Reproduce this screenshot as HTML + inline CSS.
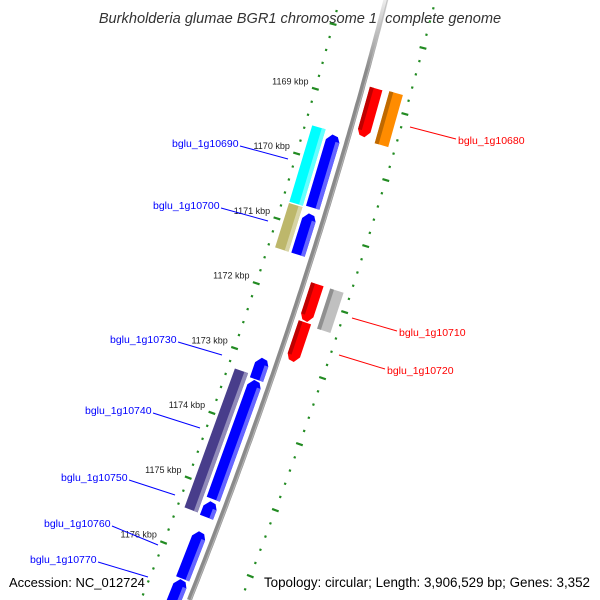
<!DOCTYPE html>
<html><head><meta charset="utf-8"><style>
html,body{margin:0;padding:0;background:#fff;overflow:hidden;width:600px;height:600px;}
svg{display:block;font-family:"Liberation Sans",sans-serif;}
</style></head><body>
<svg id="map" width="600" height="600" viewBox="0 0 600 600" overflow="hidden">
<defs>
<linearGradient id="bbg" gradientUnits="userSpaceOnUse" x1="0" y1="0" x2="0" y2="70">
<stop offset="0" stop-color="#ececec"/><stop offset="1" stop-color="#8a8a8a"/></linearGradient>
</defs>
<text x="300" y="23" text-anchor="middle" font-size="14.6" font-style="italic" fill="#333">Burkholderia glumae BGR1 chromosome 1, complete genome</text>
<g id="ticks"></g>
<g id="backbone"></g>
<g id="genes"></g>
<g id="labels"></g>
<text x="9" y="587" font-size="13" fill="#000">Accession: NC_012724</text>
<text x="590" y="587" text-anchor="end" font-size="13.4" fill="#000">Topology: circular; Length: 3,906,529 bp; Genes: 3,352</text>
</svg>
<script>
const tickKbp=[1169,1170,1171,1172,1173,1174,1175,1176];
const tickLabels=["1169 kbp","1170 kbp","1171 kbp","1172 kbp","1173 kbp","1174 kbp","1175 kbp","1176 kbp"];
const geneNames=["bglu_1g10680","orange-gene","cyan-gene","bglu_1g10690","khaki-gene","bglu_1g10700","bglu_1g10710","gray-gene","bglu_1g10720","bglu_1g10730","blue-long-gene","bglu_1g10740","bglu_1g10750","bglu_1g10760","bglu_1g10770"];
const geneStart=[1168.755,1168.74,1169.535,1169.565,1170.73,1170.775,1171.74,1171.74,1172.32,1172.99,1173.33,1173.28,1175.19,1175.65,1176.385];
const geneEnd=[1169.505,1169.53,1170.71,1170.695,1171.415,1171.415,1172.32,1172.35,1172.93,1173.33,1175.165,1175.42,1175.44,1176.385,1176.78];
const geneLane=[1,2,-2,-1,-2,-1,1,2,1,-1,-1,-2,-1,-1,-1];
const geneArrow=["down","none","none","up","none","up","down","none","down","up","up","none","up","up","up"];
const geneColor=["#ff0000","#ff8c00","#00ffff","#0000ff","#bdb76b","#0000ff","#ff0000","#c0c0c0","#ff0000","#0000ff","#0000ff","#483d8b","#0000ff","#0000ff","#0000ff"];

const NS="http://www.w3.org/2000/svg";
function sOf(k){return 101+(k-1169)*65.4;}
function bx(s){return 385.9-0.2578*s-0.0001163*s*s;}
function P(s,d){const b=-0.2578-2*0.0001163*s;const nx=1/Math.sqrt(1+b*b);const ny=-b*nx;return [bx(s)+d*nx,s+d*ny];}
function el(t,a,p){const e=document.createElementNS(NS,t);for(const k in a)e.setAttribute(k,a[k]);p.appendChild(e);return e;}
const lanes={1:[7,20],2:[27,41],"-1":[-21,-7],"-2":[-38,-24]};
function shade(c,f){const n=parseInt(c.slice(1),16);let r=n>>16,g=(n>>8)&255,b=n&255;
 const m=v=>Math.max(0,Math.min(255,Math.round(f>0?v+(255-v)*f:v*(1+f))));return `rgb(${m(r)},${m(g)},${m(b)})`;}

const bb=document.getElementById('backbone');
let pts=[];for(let s=-5;s<=600;s+=5){pts.push(bx(s).toFixed(1)+","+s);}
let e=el('polyline',{points:pts.join(" "),fill:"none",stroke:"url(#bbg)","stroke-width":5},bb);


pts=[];for(let s=-5;s<=600;s+=5){pts.push((bx(s)+1.5).toFixed(1)+","+s);}
e=el('polyline',{points:pts.join(" "),fill:"none",stroke:"#bbb","stroke-width":1.2,opacity:0.8},bb);



const tg=document.getElementById('ticks');
for(let k=1167.4;k<=1177.6;k+=0.2){
 const s=sOf(k);const major=Math.abs(k-Math.round(k))<0.01;
 [-45,48].forEach(d=>{
  const half=major?3.5:1.1;
  const a=P(s,d-half),b=P(s,d+half);
  if(a[1]<-2||b[1]>598)return;
  const ln=el('line',{x1:a[0],y1:a[1],x2:b[0],y2:b[1],stroke:"#228b22","stroke-width":2.2},tg);
  
  
 });
}
tickKbp.forEach((k,i)=>{
 const p=P(sOf(k),-50);
 const t=el('text',{x:p[0]-2,y:p[1]-3,"text-anchor":"end","font-size":9,fill:"#222"},tg);
 t.textContent=tickLabels[i];
 
 
});

const gg=document.getElementById('genes');
geneNames.forEach((n,i)=>{
 const a=sOf(geneStart[i]),b=sOf(geneEnd[i]);const [d1,d2]=lanes[geneLane[i]];const dm=(d1+d2)/2;const h=7;
 let poly;
 if(geneArrow[i]=="up")poly=[P(b,d1),P(a+h,d1),P(a+1,dm-2),P(a+2,d2-3),P(a+h,d2),P(b,d2)];
 else if(geneArrow[i]=="down")poly=[P(a,d1),P(b-h,d1),P(b-2,d1+3),P(b-1,dm+2),P(b-h,d2),P(a,d2)];
 else poly=[P(a,d1),P(b,d1),P(b,d2),P(a,d2)];
 const g=el('g',{},gg);
 
 
 el('polygon',{points:poly.map(p=>p[0].toFixed(1)+","+p[1].toFixed(1)).join(" "),fill:geneColor[i]},g);
 const sd=geneLane[i]<0?[d2-4,d2]:[d1,d1+4];
 const sa=geneArrow[i]=="up"?a+h:a, sb=geneArrow[i]=="down"?b-h:b;
 const strip=[P(sa,sd[0]),P(sb,sd[0]),P(sb,sd[1]),P(sa,sd[1])];
 el('polygon',{points:strip.map(p=>p[0].toFixed(1)+","+p[1].toFixed(1)).join(" "),fill:geneLane[i]<0?shade(geneColor[i],0.4):shade(geneColor[i],-0.25)},g);
});

const lg=document.getElementById('labels');
const labs=[
 ["bglu_1g10690",172,147,240,146,288,159,"#0000ff"],
 ["bglu_1g10700",153,209,221,208,268,221,"#0000ff"],
 ["bglu_1g10730",110,343,178,342,222,355,"#0000ff"],
 ["bglu_1g10740",85,414,153,413,200,428,"#0000ff"],
 ["bglu_1g10750",61,481,129,480,175,495,"#0000ff"],
 ["bglu_1g10760",44,527,112,526,158,545,"#0000ff"],
 ["bglu_1g10770",30,563,98,562,148,577,"#0000ff"],
 ["bglu_1g10680",458,144,456,139,410,127,"#ff0000"],
 ["bglu_1g10710",399,336,397,331,352,318,"#ff0000"],
 ["bglu_1g10720",387,374,385,369,339,355,"#ff0000"]];
labs.forEach(l=>{
 const ln=el('line',{x1:l[3],y1:l[4],x2:l[5],y2:l[6],stroke:l[7],"stroke-width":1},lg);
 
 
 const t=el('text',{x:l[1],y:l[2],"font-size":10.5,fill:l[7]},lg);
 t.textContent=l[0];
 
 
});
</script>
</body></html>
